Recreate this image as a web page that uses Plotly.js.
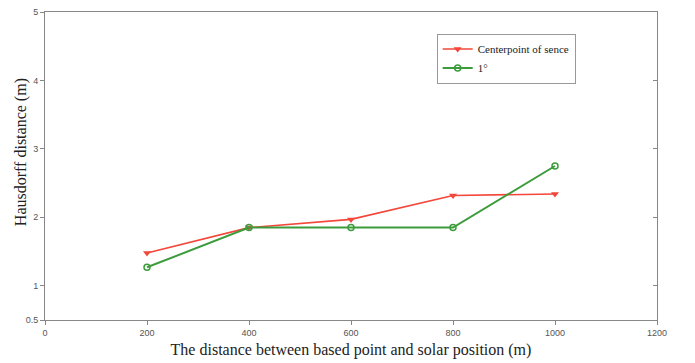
<!DOCTYPE html>
<html><head><meta charset="utf-8">
<script src="https://cdn.plot.ly/plotly-3.0.1.min.js"></script>
<style>html,body{margin:0;padding:0;background:#fff}#c{width:695px;height:363px}</style>
</head><body><div id="c"></div>
<script>
const distances = [200, 400, 600, 800, 1000];
const centerpoint = [1.48, 1.85, 1.97, 2.32, 2.34];
const oneDegree = [1.27, 1.85, 1.85, 1.85, 2.75];
const xTicks = [0, 200, 400, 600, 800, 1000, 1200];
const yTicks = [0.5, 1, 2, 3, 4, 5];
const xTitle = 'The distance between based point and solar position (m)';
const yTitle = 'Hausdorff distance (m)';

const traces = [
  {x: distances, y: centerpoint, name: 'Centerpoint of sence', mode: 'lines+markers',
   line: {color: '#f2473a', width: 1.6},
   marker: {symbol: 'triangle-down', size: 7, color: '#f2473a'}},
  {x: distances, y: oneDegree, name: '1°', mode: 'lines+markers',
   line: {color: '#3c9c3c', width: 2},
   marker: {symbol: 'circle-open', size: 6, color: '#3c9c3c', line: {width: 1.5}}},
  {x: [null], y: [null], yaxis: 'y2', showlegend: false, hoverinfo: 'skip'}
];

const serif = 'Liberation Serif, Times New Roman, serif';
const tickFont = {family: 'Liberation Sans, Arial, sans-serif', size: 9, color: '#555'};
const layout = {
  width: 695, height: 363,
  margin: {l: 45, r: 38, t: 12, b: 43},
  paper_bgcolor: '#fff', plot_bgcolor: '#fff',
  showlegend: true,
  legend: {x: 0.64, y: 0.93, xanchor: 'left', yanchor: 'top',
    bgcolor: '#fff', bordercolor: '#999', borderwidth: 1,
    font: {family: serif, size: 11, color: '#222'},
    tracegroupgap: 0, itemwidth: 30},
  xaxis: {range: [0, 1200], tickvals: xTicks, ticktext: xTicks.map(String),
    showgrid: false, zeroline: false, showline: true, linecolor: '#888', linewidth: 1,
    mirror: true, ticks: 'outside', ticklen: 4, tickcolor: '#888', tickfont: tickFont,
    title: {text: xTitle, standoff: 7, font: {family: serif, size: 16, color: '#222'}}},
  yaxis: {range: [0.5, 5], tickvals: yTicks, ticktext: yTicks.map(String),
    showgrid: false, zeroline: false, showline: true, linecolor: '#888', linewidth: 1,
    mirror: true, ticks: 'outside', ticklen: 4, tickcolor: '#888', tickfont: tickFont},
  yaxis2: {range: [0.5, 5], overlaying: 'y', side: 'right', tickvals: yTicks,
    showticklabels: false, ticks: 'inside', ticklen: 4, tickcolor: '#888',
    showgrid: false, zeroline: false, showline: false},
  annotations: [{text: yTitle, textangle: -90, xref: 'paper', yref: 'paper',
    x: -24/612, y: 0.545, xanchor: 'center', yanchor: 'middle', showarrow: false,
    font: {family: serif, size: 16, color: '#222'}}]
};
Plotly.newPlot('c', traces, layout, {staticPlot: true, displayModeBar: false});
</script></body></html>
